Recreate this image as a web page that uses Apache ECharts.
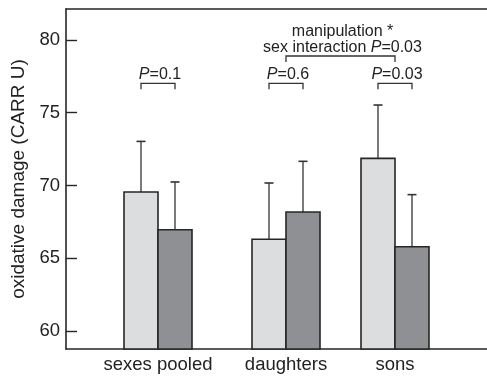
<!DOCTYPE html>
<html>
<head>
<meta charset="utf-8">
<script src="https://cdn.jsdelivr.net/npm/echarts@6/dist/echarts.min.js"></script>
<style>
  html, body { margin: 0; padding: 0; background: #fff; }
  #chart { width: 487px; height: 376px; }
</style>
</head>
<body>
<div id="chart"></div>
<script>
// Groups along the x axis and where each one sits on the x scale
const categories = ['sexes pooled', 'daughters', 'sons'];
const groupPos = [92, 220, 329];

// Mean oxidative damage (CARR U) and standard error, two treatments per group
const lightMeans = [69.55, 66.30, 71.86];
const lightErrors = [3.48, 3.87, 3.67];
const darkMeans = [66.96, 68.18, 65.79];
const darkErrors = [3.28, 3.48, 3.58];

// Pairwise test results per group, and the interaction test
const pairLabels = ['0.1', '0.6', '0.03'];
const interactionLabel = '0.03';

const yTicks = [60, 65, 70, 75, 80];
const Y_MIN = 58.76;
const Y_MAX = 82.13;
const X_MAX = 421;
const BAR_W = 34;          // bar width in x-scale units
const PAIR_LEVEL = 77.02;  // height of the pairwise brackets
const INTER_LEVEL = 78.90; // height of the interaction bracket

const FONT = '"Liberation Sans", Arial, Helvetica, sans-serif';
const INK = '#262626';

function barSeries(name, means, errors, side, fill) {
  return {
    name: name,
    type: 'custom',
    data: means.map((m, i) => [groupPos[i], m, m + errors[i]]),
    renderItem: function (params, api) {
      const x = api.value(0);
      const base = api.coord([x, Y_MIN]);
      const top = api.coord([x, api.value(1)]);
      const errTop = api.coord([x, api.value(2)]);
      const w = api.size([BAR_W, 0])[0];
      const left = side === 'left' ? top[0] - w : top[0];
      const cx = left + w / 2;
      return {
        type: 'group',
        children: [
          {
            type: 'line',
            shape: { x1: cx, y1: top[1], x2: cx, y2: errTop[1] },
            style: { stroke: '#333', lineWidth: 1.3 }
          },
          {
            type: 'line',
            shape: { x1: cx - 4.5, y1: errTop[1], x2: cx + 4.5, y2: errTop[1] },
            style: { stroke: '#333', lineWidth: 1.6 }
          },
          {
            type: 'rect',
            shape: { x: left, y: top[1], width: w, height: base[1] - top[1] },
            style: { fill: fill, stroke: INK, lineWidth: 1.6 }
          }
        ]
      };
    }
  };
}

// Bracket with a test label above it, in data coordinates
function bracketSeries() {
  const items = groupPos.map((p, i) => ({
    value: [p - BAR_W / 2, p + BAR_W / 2, PAIR_LEVEL],
    lines: ['{i|P}=' + pairLabels[i]]
  }));
  items.push({
    value: [groupPos[1], groupPos[2], INTER_LEVEL],
    lines: ['manipulation *', 'sex interaction {i|P}=' + interactionLabel]
  });
  return {
    type: 'custom',
    data: items,
    renderItem: function (params, api) {
      const a = api.coord([api.value(0), api.value(2)]);
      const b = api.coord([api.value(1), api.value(2)]);
      const item = items[params.dataIndex];
      const tick = 6;
      return {
        type: 'group',
        children: [
          {
            type: 'polyline',
            shape: { points: [[a[0], a[1] + tick], [a[0], a[1]], [b[0], b[1]], [b[0], b[1] + tick]] },
            style: { stroke: '#333', lineWidth: 1.3, fill: null }
          },
          {
            type: 'text',
            x: (a[0] + b[0]) / 2 + 2,
            y: a[1] - 0.5,
            style: {
              text: item.lines.join('\n'),
              fontFamily: FONT,
              fontSize: 16,
              lineHeight: 16,
              fill: '#222',
              align: 'center',
              verticalAlign: 'bottom',
              rich: { i: { fontStyle: 'italic', fontFamily: FONT, fontSize: 16, lineHeight: 16, fill: '#222' } }
            }
          }
        ]
      };
    }
  };
}

const chart = echarts.init(document.getElementById('chart'), null, { renderer: 'canvas' });

chart.setOption({
  animation: false,
  backgroundColor: '#fff',
  grid: { left: 66, right: 0, top: 9, bottom: 27, containLabel: false },
  xAxis: [
    {
      type: 'value',
      min: 0,
      max: X_MAX,
      axisLine: { show: true, lineStyle: { color: INK, width: 1.6 } },
      axisTick: { show: false },
      splitLine: { show: false },
      axisLabel: {
        customValues: groupPos,
        formatter: v => categories[groupPos.indexOf(v)],
        fontFamily: FONT,
        fontSize: 18.5,
        color: '#222',
        margin: 6
      }
    },
    {
      type: 'value',
      position: 'top',
      min: 0,
      max: X_MAX,
      axisLine: { show: true, lineStyle: { color: INK, width: 1.6 } },
      axisTick: { show: false },
      axisLabel: { show: false },
      splitLine: { show: false }
    }
  ],
  yAxis: {
    type: 'value',
    min: Y_MIN,
    max: Y_MAX,
    name: 'oxidative damage (CARR U)',
    nameLocation: 'middle',
    nameGap: 38,
    nameTextStyle: { fontFamily: FONT, fontSize: 19, color: '#222' },
    axisLine: { show: true, lineStyle: { color: INK, width: 1.6 } },
    axisTick: {
      show: true,
      inside: true,
      length: 11,
      customValues: yTicks,
      lineStyle: { color: INK, width: 1.4 }
    },
    axisLabel: {
      customValues: yTicks,
      fontFamily: FONT,
      fontSize: 18.5,
      color: '#222',
      margin: 6
    },
    splitLine: { show: false }
  },
  series: [
    barSeries('control', lightMeans, lightErrors, 'left', '#dcdddf'),
    barSeries('manipulated', darkMeans, darkErrors, 'right', '#8f9094'),
    bracketSeries()
  ]
});
</script>
</body>
</html>
